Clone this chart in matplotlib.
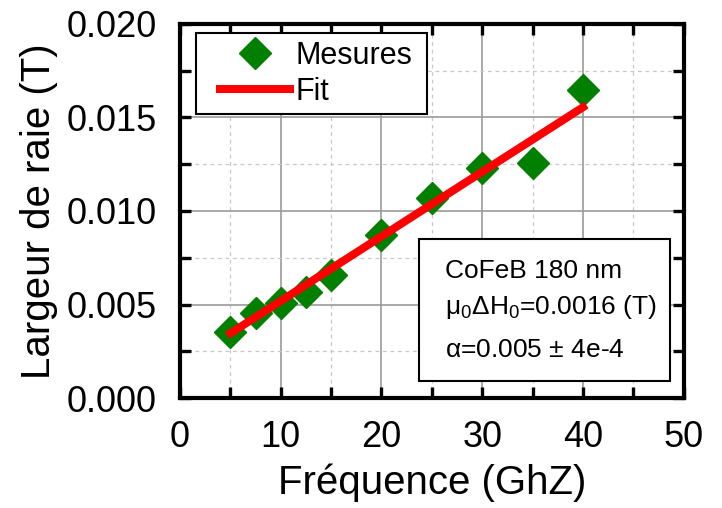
import matplotlib
matplotlib.use("Agg")
from matplotlib import pyplot as plt
from matplotlib.patches import Rectangle
from matplotlib.ticker import MultipleLocator, FormatStrFormatter

# données mesurées
freq = [5, 7.5, 10, 12.5, 15, 20, 25, 30, 35, 40]
largeur = [0.00355, 0.00453, 0.00506, 0.00569, 0.00658, 0.00872, 0.01071, 0.01228, 0.01258, 0.01647]

# ajustement linéaire (extrémités)
fit_x = [5, 40]
fit_y = [0.00346, 0.01555]

lignes_info = ["CoFeB 180 nm",
               r"$\mathregular{\mu_0\Delta H_0}$=0.0016 (T)",
               r"$\mathregular{\alpha}$=0.005 $\mathregular{\pm}$ 4e-4"]

plt.rcParams['font.family'] = ['Liberation Sans', 'DejaVu Sans']
plt.rcParams['mathtext.fontset'] = 'custom'
plt.rcParams['mathtext.rm'] = 'Liberation Sans'
plt.rcParams['mathtext.it'] = 'Liberation Sans:italic'

fig = plt.figure(figsize=(7.22, 5.08), dpi=100)
ax = fig.add_axes([0.2493, 0.2165, 0.6977, 0.7363])

ax.plot(freq, largeur, linestyle='none', marker='D', markersize=16,
        color='#007f00', label='Mesures', zorder=3)
ax.plot(fit_x, fit_y, color='#ff0000', linewidth=5.8, label='Fit', zorder=4)

ax.set_xlim(0, 50)
ax.set_ylim(0, 0.020)
ax.xaxis.set_major_locator(MultipleLocator(10))
ax.xaxis.set_minor_locator(MultipleLocator(5))
ax.yaxis.set_major_locator(MultipleLocator(0.005))
ax.yaxis.set_minor_locator(MultipleLocator(0.0025))
ax.yaxis.set_major_formatter(FormatStrFormatter('%.3f'))

ax.grid(which='major', color='#9a9a9a', linewidth=1.2, linestyle='-')
ax.grid(which='minor', color='#c8c8c8', linewidth=0.9, linestyle=(0, (3, 3)))
ax.set_axisbelow(True)

for s in ax.spines.values():
    s.set_linewidth(3)
ax.tick_params(which='both', direction='in', top=True, right=True,
               width=2.4, length=8, labelsize=26)
ax.tick_params(axis='x', which='both', pad=16)
ax.tick_params(axis='y', which='both', pad=17)

ax.set_xlabel('Fréquence (GhZ)', fontsize=29, labelpad=6)
ax.set_ylabel('Largeur de raie (T)', fontsize=29, labelpad=6)

# cadre de la légende dessiné à part
ax.add_patch(Rectangle((0.0317, 0.759), 0.458, 0.2166, transform=ax.transAxes,
                       facecolor='white', edgecolor='black', linewidth=1.5, zorder=5))
leg = ax.legend(loc='upper left', bbox_to_anchor=(0.0794, 0.955), fontsize=22,
                frameon=False, handlelength=2.3, handletextpad=0.17, borderpad=0,
                labelspacing=0.2, borderaxespad=0)
leg.set_zorder(6)

ax.add_patch(Rectangle((0.474, 0.045), 0.498, 0.38, transform=ax.transAxes,
                       facecolor='white', edgecolor='black', linewidth=1.5, zorder=5))
for t, y in zip(lignes_info, [0.340, 0.243, 0.128]):
    ax.text(0.526, y, t, transform=ax.transAxes, fontsize=19, va='center',
            ha='left', zorder=6)

fig.savefig('out.png', dpi=100)
